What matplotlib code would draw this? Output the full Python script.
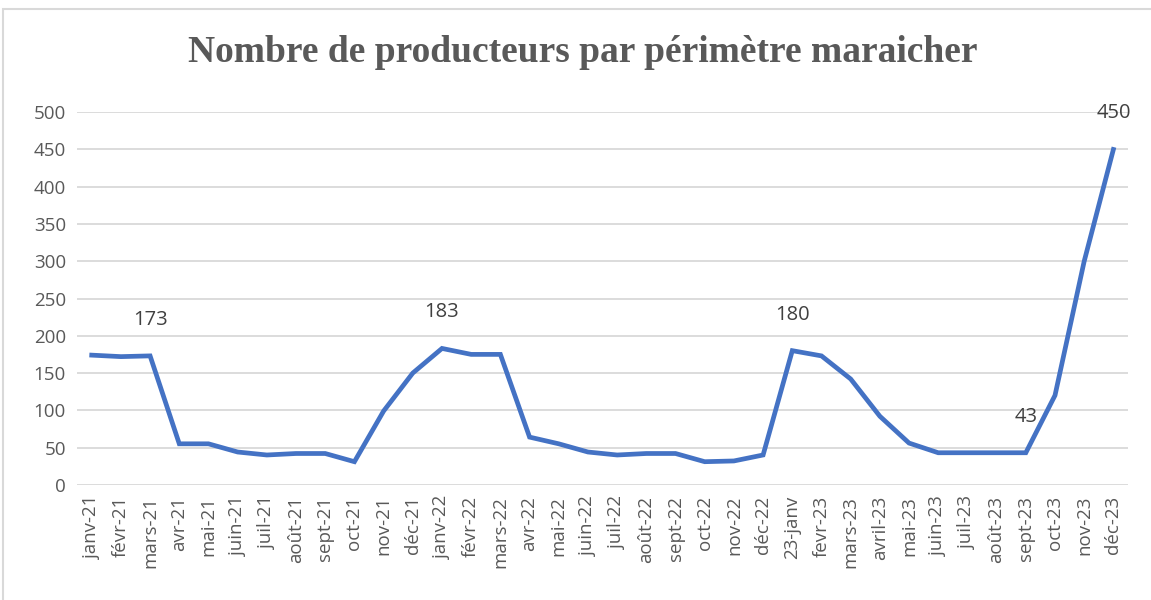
import matplotlib.pyplot as plt
from matplotlib.patches import Rectangle

mois = ["janv-21", "févr-21", "mars-21", "avr-21", "mai-21", "juin-21", "juil-21",
        "août-21", "sept-21", "oct-21", "nov-21", "déc-21",
        "janv-22", "févr-22", "mars-22", "avr-22", "mai-22", "juin-22", "juil-22",
        "août-22", "sept-22", "oct-22", "nov-22", "déc-22",
        "23-janv", "fevr-23", "mars-23", "avril-23", "mai-23", "juin-23", "juil-23",
        "août-23", "sept-23", "oct-23", "nov-23", "déc-23"]
producteurs = [174, 172, 173, 55, 55, 44, 40, 42, 42, 31, 99, 150,
               183, 175, 175, 64, 55, 44, 40, 42, 42, 31, 32, 40,
               180, 173, 142, 92, 56, 43, 43, 43, 43, 120, 300, 450]
# indices des points étiquetés
etiquettes = [2, 12, 24, 32, 35]

gris = "#595959"

fig = plt.figure(figsize=(11.51, 6), dpi=100)
ax = fig.add_axes([0.067, 0.192, 0.913, 0.621])

x = list(range(len(mois)))
ax.plot(x, producteurs, color="#4472C4", linewidth=3.4, solid_joinstyle="miter")

for i in etiquettes:
    ax.annotate(str(producteurs[i]), (x[i], producteurs[i]), xytext=(0, 26),
                textcoords="offset points", ha="center", va="center",
                fontsize=14.5, color="#404040", family="Open Sans")

ax.set_xlim(-0.5, len(mois) - 0.5)
ax.set_ylim(0, 500)
ax.set_yticks(range(0, 501, 50))
ax.set_xticks(x)
ax.set_xticklabels(mois, rotation=90, fontsize=13.5, color=gris, family="Open Sans")
for lab in ax.get_yticklabels():
    lab.set_fontsize(13.5)
    lab.set_color(gris)
    lab.set_family("Open Sans")

ax.grid(axis="y", color="#d9d9d9", linewidth=1.3)
ax.set_axisbelow(True)
ax.tick_params(length=0, pad=8)
for s in ax.spines.values():
    s.set_visible(False)

fig.text(0.506, 0.913, "Nombre de producteurs par périmètre maraicher",
         ha="center", va="center", fontsize=27, fontweight="bold",
         color=gris, family="Liberation Serif")

fig.patches.append(Rectangle((0.003, -0.01), 1.0, 0.995, transform=fig.transFigure,
                             fill=False, edgecolor="#d9d9d9", linewidth=1.5))

fig.savefig("out.png", dpi=100)
